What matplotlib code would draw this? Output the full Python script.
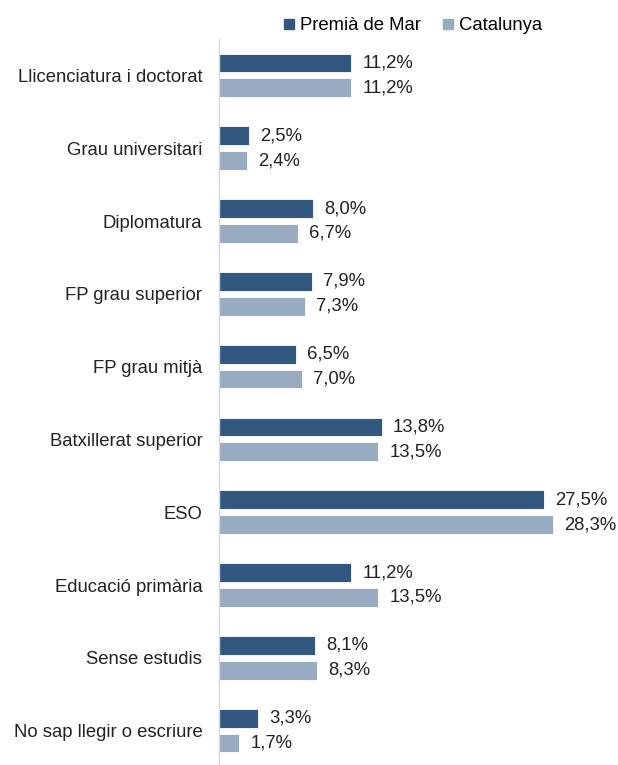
import numpy as np
import matplotlib.pyplot as plt
from matplotlib.lines import Line2D

plt.rcParams['font.family'] = ['Liberation Sans', 'DejaVu Sans']

categories = ['Llicenciatura i doctorat', 'Grau universitari', 'Diplomatura',
              'FP grau superior', 'FP grau mitjà', 'Batxillerat superior',
              'ESO', 'Educació primària', 'Sense estudis',
              'No sap llegir o escriure']
premia = [11.2, 2.5, 8.0, 7.9, 6.5, 13.8, 27.5, 11.2, 8.1, 3.3]
catalunya = [11.2, 2.4, 6.7, 7.3, 7.0, 13.5, 28.3, 13.5, 8.3, 1.7]
series_names = ['Premià de Mar', 'Catalunya']

col_dark = '#33587f'
col_light = '#98abc1'
fs = 13.3

fig = plt.figure(figsize=(6.18, 7.65), dpi=100)
ax = fig.add_axes([219 / 618, -2 / 765, 1 - 219 / 618, 728 / 765])

y = np.arange(len(categories))
h = 0.26
off = 0.17
ax.barh(y - off, premia, height=h, color=col_dark, edgecolor='white', linewidth=0.6)
ax.barh(y + off, catalunya, height=h, color=col_light, edgecolor='white', linewidth=0.6)

# value labels to the right of each bar
for yi, v in zip(y - off, premia):
    ax.text(v + 0.95, yi, f'{v:.1f}%'.replace('.', ','), va='center', ha='left',
            fontsize=fs, color='#222222')
for yi, v in zip(y + off, catalunya):
    ax.text(v + 0.95, yi, f'{v:.1f}%'.replace('.', ','), va='center', ha='left',
            fontsize=fs, color='#222222')

ax.set_xlim(0, 399 / 11.8)
ax.set_ylim(len(categories) - 0.5, -0.5)
ax.set_yticks(y)
ax.set_yticklabels(categories, fontsize=fs, color='#222222')
ax.tick_params(axis='y', length=0, pad=12)
ax.set_xticks([])
for s in ['top', 'right', 'bottom']:
    ax.spines[s].set_visible(False)
ax.spines['left'].set_color('#d9d9d9')
ax.spines['left'].set_linewidth(1.0)

handles = [Line2D([], [], marker='s', linestyle='none', markersize=7, color=c)
           for c in (col_dark, col_light)]
fig.legend(handles, series_names, loc='center', bbox_to_anchor=(411 / 618, 1 - 26 / 765),
           ncol=2, frameon=False, fontsize=fs, handletextpad=0.1, columnspacing=0.97,
           handlelength=1.0)

fig.savefig('out.png', dpi=100)
